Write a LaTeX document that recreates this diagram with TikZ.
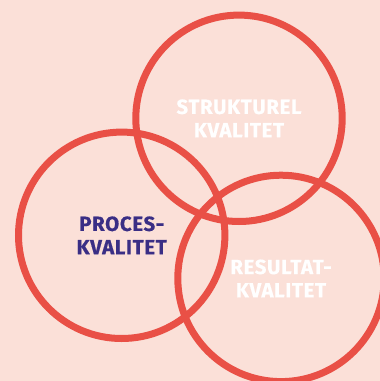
\documentclass[tikz,border=0pt]{standalone}
\usepackage{fontspec}
\setmainfont{Fira Sans}
\newfontfamily\labelfont[LetterSpace=3,FakeBold=0.5]{Fira Sans Bold}
\definecolor{bgpink}{RGB}{251,224,216}
\definecolor{ringred}{RGB}{233,80,70}
\definecolor{navy}{RGB}{58,46,133}
\begin{document}
\begin{tikzpicture}[x=1pt,y=-1pt,
  ring/.style={circle,draw=ringred,line width=7pt,minimum size=206.4pt,inner sep=0pt,
    align=center,font=\labelfont\fontsize{20.5}{23.3}\selectfont}]
\fill[bgpink] (0,0) rectangle (380,381);
\useasboundingbox (0,0) rectangle (380,381);
\node[ring,text=white] (struk) at (239,118.3) {STRUKTUREL\\KVALITET};
\node[ring,text=navy] (proces) at (121.7,235.3) {PROCES-\\KVALITET};
\node[ring,text=white] (result) at (281,278.4) {RESULTAT-\\KVALITET};
\end{tikzpicture}
\end{document}
